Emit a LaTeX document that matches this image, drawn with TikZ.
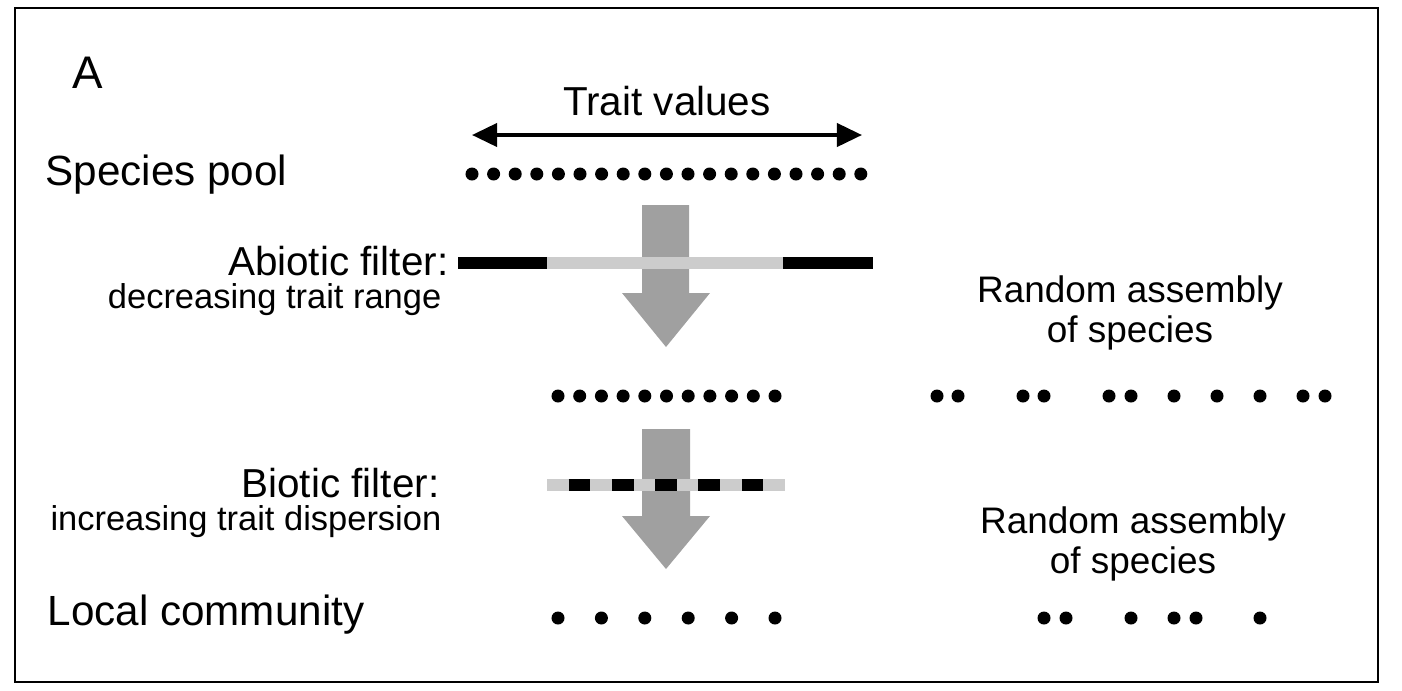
\documentclass[tikz,border=0pt]{standalone}
\usepackage{fontspec}
\setmainfont{Liberation Sans}
\usetikzlibrary{
	arrows.meta
}
\definecolor{arrowgray}{HTML}{A0A0A0}
\definecolor{bargray}{HTML}{CCCCCC}
\tikzset{
	rowlabel/.style={
		font=\fontsize{12}{14}\selectfont,
		inner sep=0,
		anchor=base west
	},
	filterlabel/.style={
		font=\fontsize{11.5}{13}\selectfont,
		inner sep=0,
		anchor=base east
	},
	filtersub/.style={
		font=\fontsize{9.8}{12}\selectfont,
		inner sep=0,
		anchor=base east
	},
	randomlabel/.style={
		font=\fontsize{10.5}{11.3}\selectfont,
		align=center,
		inner sep=0,
		anchor=base
	},
	traitaxis/.style={
		line width=1.1pt,
		{Triangle[length=0.25cm,width=0.23cm]}-{Triangle[length=0.25cm,width=0.23cm]}
	},
	filterbar/.style={
		line width=0.12cm
	},
	bigarrow/.style={
		fill=arrowgray
	}
}

\begin{document}
\begin{tikzpicture}[x=0.01cm,y=-0.01cm]
	\useasboundingbox (0,0) rectangle (1402,690);
	\draw[line width=0.8pt] (15,8) rectangle (1378,682);

	% labels
	\node [rowlabel,font=\fontsize{13}{15}\selectfont] (panel) at (72,88) {A};
	\node [rowlabel,anchor=base,font=\fontsize{11.5}{13}\selectfont] (trait) at (667,115) {Trait values};
	\node [rowlabel] (pool)  at (45,185) {Species pool};
	\node [rowlabel] (local) at (47,625) {Local community};
	\node [filterlabel] (abiotic)    at (449,275) {Abiotic filter:};
	\node [filtersub]   (abioticsub) at (442,308) {decreasing trait range};
	\node [filterlabel] (biotic)     at (440,497) {Biotic filter:};
	\node [filtersub]   (bioticsub)  at (442,530) {increasing trait dispersion};
	\node [randomlabel] (random1) at (1130,342) {Random assembly\\of species};
	\node [randomlabel] (random2) at (1133,573) {Random assembly\\of species};

	% trait axis
	\coordinate (traitL) at (472,135);
	\coordinate (traitR) at (862,135);
	\draw [traitaxis] (traitL) -- (traitR);

	% filter arrows
	\fill [bigarrow] (642,205) -- (689,205) -- (689,293) -- (710,293)
		-- (666,347) -- (622,293) -- (642,293) -- cycle;
	\fill [bigarrow] (642,429) -- (690,429) -- (690,516) -- (710,516)
		-- (666,569) -- (622,516) -- (642,516) -- cycle;

	% abiotic filter
	\draw [filterbar,black]   (458,263) -- (547,263);
	\draw [filterbar,bargray] (547,263) -- (783,263);
	\draw [filterbar,black]   (783,263) -- (873,263);

	% biotic filter
	\draw [filterbar,bargray] (547,485) -- (785,485);
	\foreach \i in {1,3,5,7,9}
		\draw [filterbar,black] ({547+\i*21.64},485) -- ({547+(\i+1)*21.64},485);

	% species
	\foreach \i in {0,...,18}
		\fill ({472+\i*21.6},174) circle [radius=0.065cm];
	\foreach \i in {0,...,10}
		\fill ({558+\i*21.7},396) circle [radius=0.065cm];
	\foreach \i in {0,...,5}
		\fill ({558+\i*43.4},618) circle [radius=0.065cm];
	\foreach \x in {937,958,1023,1044,1109,1131,1174,1217,1260,1303,1325}
		\fill (\x,396) circle [radius=0.065cm];
	\foreach \x in {1044,1066,1131,1174,1196,1260}
		\fill (\x,618) circle [radius=0.065cm];
\end{tikzpicture}
\end{document}
